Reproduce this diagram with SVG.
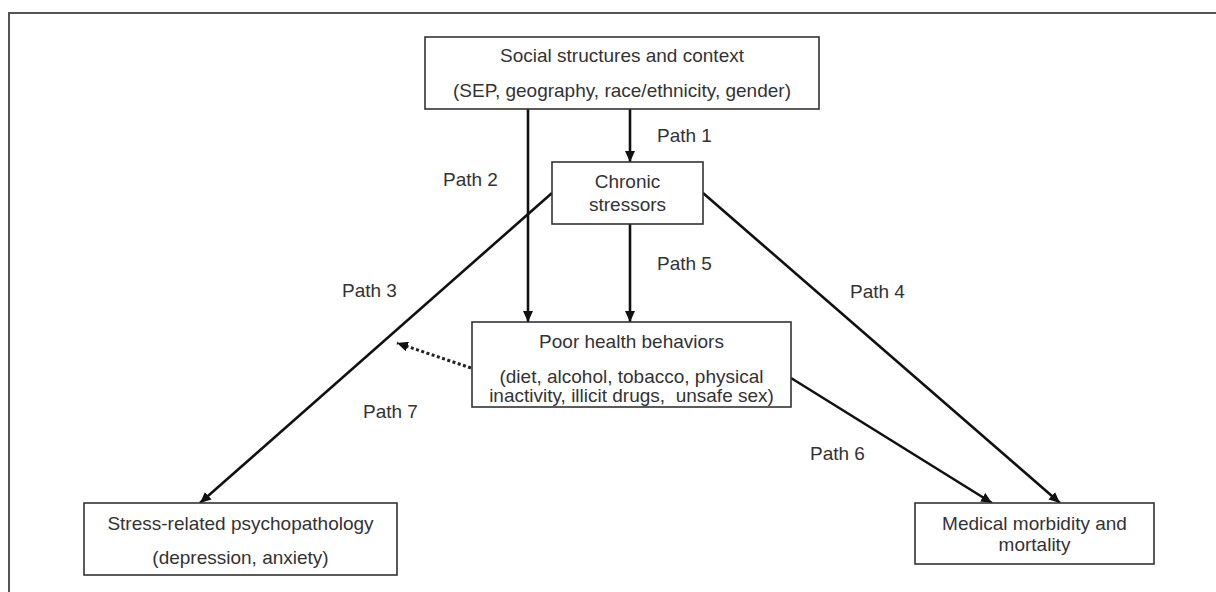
<svg xmlns="http://www.w3.org/2000/svg" width="1216" height="592" viewBox="0 0 1216 592">
<style>
text{font-family:"Liberation Sans",Arial,sans-serif;font-size:19px;fill:#333}
.c{text-anchor:middle}
.box{fill:#fff;stroke:#333;stroke-width:1.6}
.ln{stroke:#111;stroke-width:2.6;fill:none}
.dot{stroke:#222;stroke-width:3;fill:none;stroke-dasharray:3 2.5}
</style>
<defs>
<marker id="ah" markerUnits="userSpaceOnUse" markerWidth="12" markerHeight="10" refX="11" refY="5" orient="auto">
<path d="M0,0 L11,5 L0,10 z" fill="#111"/>
</marker>
</defs>
<rect x="9" y="13" width="1230" height="600" fill="none" stroke="#555" stroke-width="2"/>
<g id="connectors">
<line class="ln" x1="630" y1="109" x2="630" y2="162" marker-end="url(#ah)"/>
<line class="ln" x1="528" y1="109" x2="528" y2="322" marker-end="url(#ah)"/>
<line class="ln" x1="630" y1="224" x2="630" y2="322" marker-end="url(#ah)"/>
<line class="ln" x1="552" y1="193" x2="200" y2="503" marker-end="url(#ah)"/>
<line class="ln" x1="703" y1="193" x2="1060" y2="503" marker-end="url(#ah)"/>
<line class="ln" x1="791" y1="378" x2="992" y2="503" marker-end="url(#ah)"/>
<line class="dot" x1="471" y1="368" x2="397" y2="343" marker-end="url(#ah)"/>
<text x="657" y="142">Path 1</text>
<text x="443" y="186">Path 2</text>
<text x="342" y="297">Path 3</text>
<text x="850" y="298">Path 4</text>
<text x="657" y="270">Path 5</text>
<text x="810" y="460">Path 6</text>
<text x="363" y="418">Path 7</text>
</g>
<g id="social">
<rect class="box" x="425" y="37" width="394" height="72"/>
<text class="c" x="622" y="62">Social structures and context</text>
<text class="c" x="622" y="97">(SEP, geography, race/ethnicity, gender)</text>
</g>
<g id="chronic">
<rect class="box" x="552" y="162" width="151" height="62"/>
<text class="c" x="627.5" y="188">Chronic</text>
<text class="c" x="627.5" y="211">stressors</text>
</g>
<g id="behaviors">
<rect class="box" x="472" y="322" width="319" height="85"/>
<text class="c" x="631.5" y="348">Poor health behaviors</text>
<text class="c" x="631.5" y="383">(diet, alcohol, tobacco, physical</text>
<text class="c" x="631.5" y="402" xml:space="preserve">inactivity, illicit drugs,  unsafe sex)</text>
</g>
<g id="psycho">
<rect class="box" x="84" y="503" width="313" height="72"/>
<text class="c" x="240.5" y="530">Stress-related psychopathology</text>
<text class="c" x="240.5" y="564">(depression, anxiety)</text>
</g>
<g id="medical">
<rect class="box" x="915" y="503" width="239" height="61"/>
<text class="c" x="1034.5" y="530">Medical morbidity and</text>
<text class="c" x="1034.5" y="551">mortality</text>
</g>
</svg>
